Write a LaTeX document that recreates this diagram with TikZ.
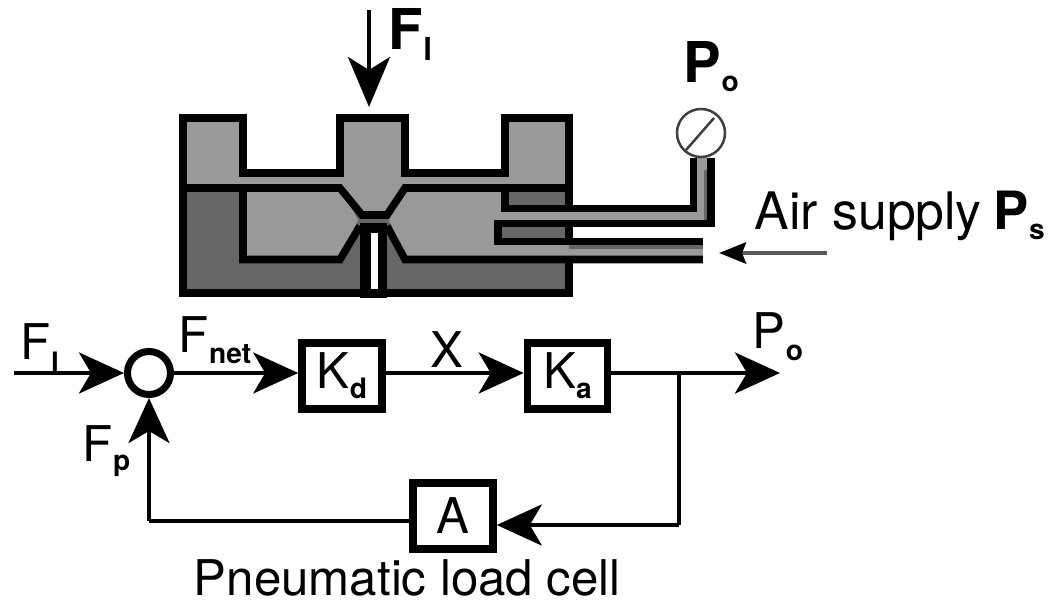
\documentclass[tikz,border=0pt]{standalone}
\usepackage{fontspec}
\setmainfont{TeX Gyre Heros}
\usetikzlibrary{arrows.meta}
\definecolor{gaslight}{gray}{0.6}
\definecolor{gasdark}{gray}{0.4}
\newcommand{\sublab}[3]{#1{\fontsize{8}{8}\selectfont\bfseries\raisebox{-#3}{#2}}}
\tikzset{
    lab/.style={anchor=base west,inner sep=0pt,outer sep=0pt,font=\fontsize{14}{14}\selectfont},
    blab/.style={lab,font=\fontsize{16}{16}\selectfont\bfseries},
    blockbox/.style={draw,fill=white,line width=7.5*0.2845pt,inner sep=0pt,minimum width=0.8cm,minimum height=0.66cm,font=\fontsize{14}{14}\selectfont},
    sumnode/.style={draw,circle,fill=white,line width=7*0.2845pt,inner sep=0pt,minimum size=0.43cm},
    sig/.style={line width=4*0.2845pt,-{Stealth[length=.45cm,width=.41cm,inset=.12cm]}},
    wall/.style={line width=7.5*0.2845pt,line join=miter},
}
\begin{document}
\begin{tikzpicture}[x=0.01cm,y=-0.01cm]
    \useasboundingbox (0,0) rectangle (1050,603);

    % load cell body
    \fill[gasdark] (183,188) rectangle (569,293);
    \fill[gaslight] (183,118) -- (243,118) -- (243,173) -- (340,173) -- (340,118) -- (405,118) -- (405,173) -- (505,173)
        -- (505,118) -- (569,118) -- (569,188) -- (405,188) -- (387,215) -- (362,215) -- (340,188) -- (183,188) -- cycle;
    \fill[gaslight] (243,188) -- (340,188) -- (358,220) -- (340,259) -- (243,259) -- cycle;
    \fill[gaslight] (405,188) -- (505,188) -- (505,223.5) -- (498,223.5) -- (498,259) -- (405,259) -- (389,220) -- cycle;
    \fill[gaslight] (505,208.5) -- (693.5,208.5) -- (693.5,158) -- (711,158) -- (711,223.5) -- (505,223.5) -- cycle;
    \fill[gaslight] (498,241.5) rectangle (703,259.5);
    \fill[gasdark] (569,243) rectangle (703,249);
    \fill[gasdark] (704,170) rectangle (708,220);

    \draw[wall] (569,208.5) -- (569,118) -- (505,118) -- (505,173) -- (405,173) -- (405,118) -- (340,118) -- (340,173)
        -- (243,173) -- (243,118) -- (183,118) -- (183,293) -- (569,293) -- (569,259.5);
    \draw[wall] (569,223.5) -- (569,241.5);
    \draw[wall] (183,188) -- (340,188) -- (362,215) -- (387,215) -- (405,188) -- (569,188);
    \draw[wall] (243,188) -- (243,259.5) -- (340,259.5) -- (360,226);
    \draw[wall] (387,226) -- (405,259.5) -- (703,259.5);
    \draw[wall] (505,188) -- (505,208.5) -- (693.5,208.5) -- (693.5,158);
    \draw[wall] (711,158) -- (711,223.5) -- (498,223.5) -- (498,241.5) -- (703,241.5);
    \fill (360,223) rectangle (387,298);
    \fill[white] (371,233) rectangle (378,289);

    % gauge and top labels
    \node (gauge) [draw=black!75,circle,line width=2.5*0.2845pt,inner sep=0pt,minimum size=0.48cm] at (701,133) {};
    \coordinate (gaugeA) at (686,150);
    \coordinate (gaugeB) at (714,118);
    \draw[black!75,line width=2.5*0.2845pt] (gaugeA) -- (gaugeB);
    \coordinate (forcetop) at (369,10);
    \coordinate (forceend) at (369,107);
    \draw[line width=4*0.2845pt,-{Stealth[length=.50cm,width=.42cm,inset=.13cm]}] (forcetop) -- (forceend);
    \node (toplabF) [blab] at (389,50) {\sublab{F}{\fontsize{9}{9}\selectfont l}{0.1cm}};
    \node (toplabP) [blab] at (684,82) {\sublab{P}{o}{0.09cm}};
    \coordinate (airstart) at (827,253);
    \coordinate (airend) at (719,253);
    \draw[black!65,line width=4.5*0.2845pt,-{Stealth[black,length=.27cm,width=.21cm,inset=.04cm]}] (airstart) -- (airend);
    \node (airlab) [lab,font=\fontsize{14.7}{15}\selectfont] at (755,230) {Air supply};
    \node (airP) [blab,font=\fontsize{15}{15}\selectfont\bfseries] at (994,230) {\sublab{P}{s}{0.09cm}};

    % block diagram
    \coordinate (inF) at (14,373);
    \node (sum) [sumnode] at (149,373) {};
    \node (kd) [blockbox] at (342,376) {\sublab{K}{d}{0.10cm}};
    \node (ka) [blockbox] at (567.5,376) {\sublab{K}{a}{0.10cm}};
    \node (fb) [blockbox] at (453,516) {A};
    \coordinate (branch) at (679,373);
    \coordinate (outP) at (780,373);
    \coordinate (corner) at (679,525);
    \coordinate (fbcorner) at (149,521);

    \draw[sig] (inF) -- (sum.west);
    \draw[sig] (sum) -- (kd.west |- sum);
    \draw[sig] (kd.east |- sum) -- (ka.west |- sum);
    \draw[sig] (ka.east |- sum) -- (outP);
    \draw[line width=4*0.2845pt] (branch) -- (corner);
    \draw[sig] (corner) -- (fb.east |- corner);
    \draw[line width=4*0.2845pt] (fb.west |- fbcorner) -- (fbcorner);
    \draw[sig] (fbcorner) -- (sum.south);

    \node (labFl) [lab] at (21,360) {\sublab{F}{l}{0.12cm}};
    \node (labFnet) [lab] at (179,353) {\sublab{F}{net}{0.10cm}};
    \node (labFp) [lab] at (83,462) {\sublab{F}{p}{0.08cm}};
    \node (labX) [lab] at (431,367) {X};
    \node (labP) [lab] at (753,349) {\sublab{P}{o}{0.11cm}};
    \node (labcell) [lab] at (194,596) {Pneumatic load cell};
\end{tikzpicture}
\end{document}
